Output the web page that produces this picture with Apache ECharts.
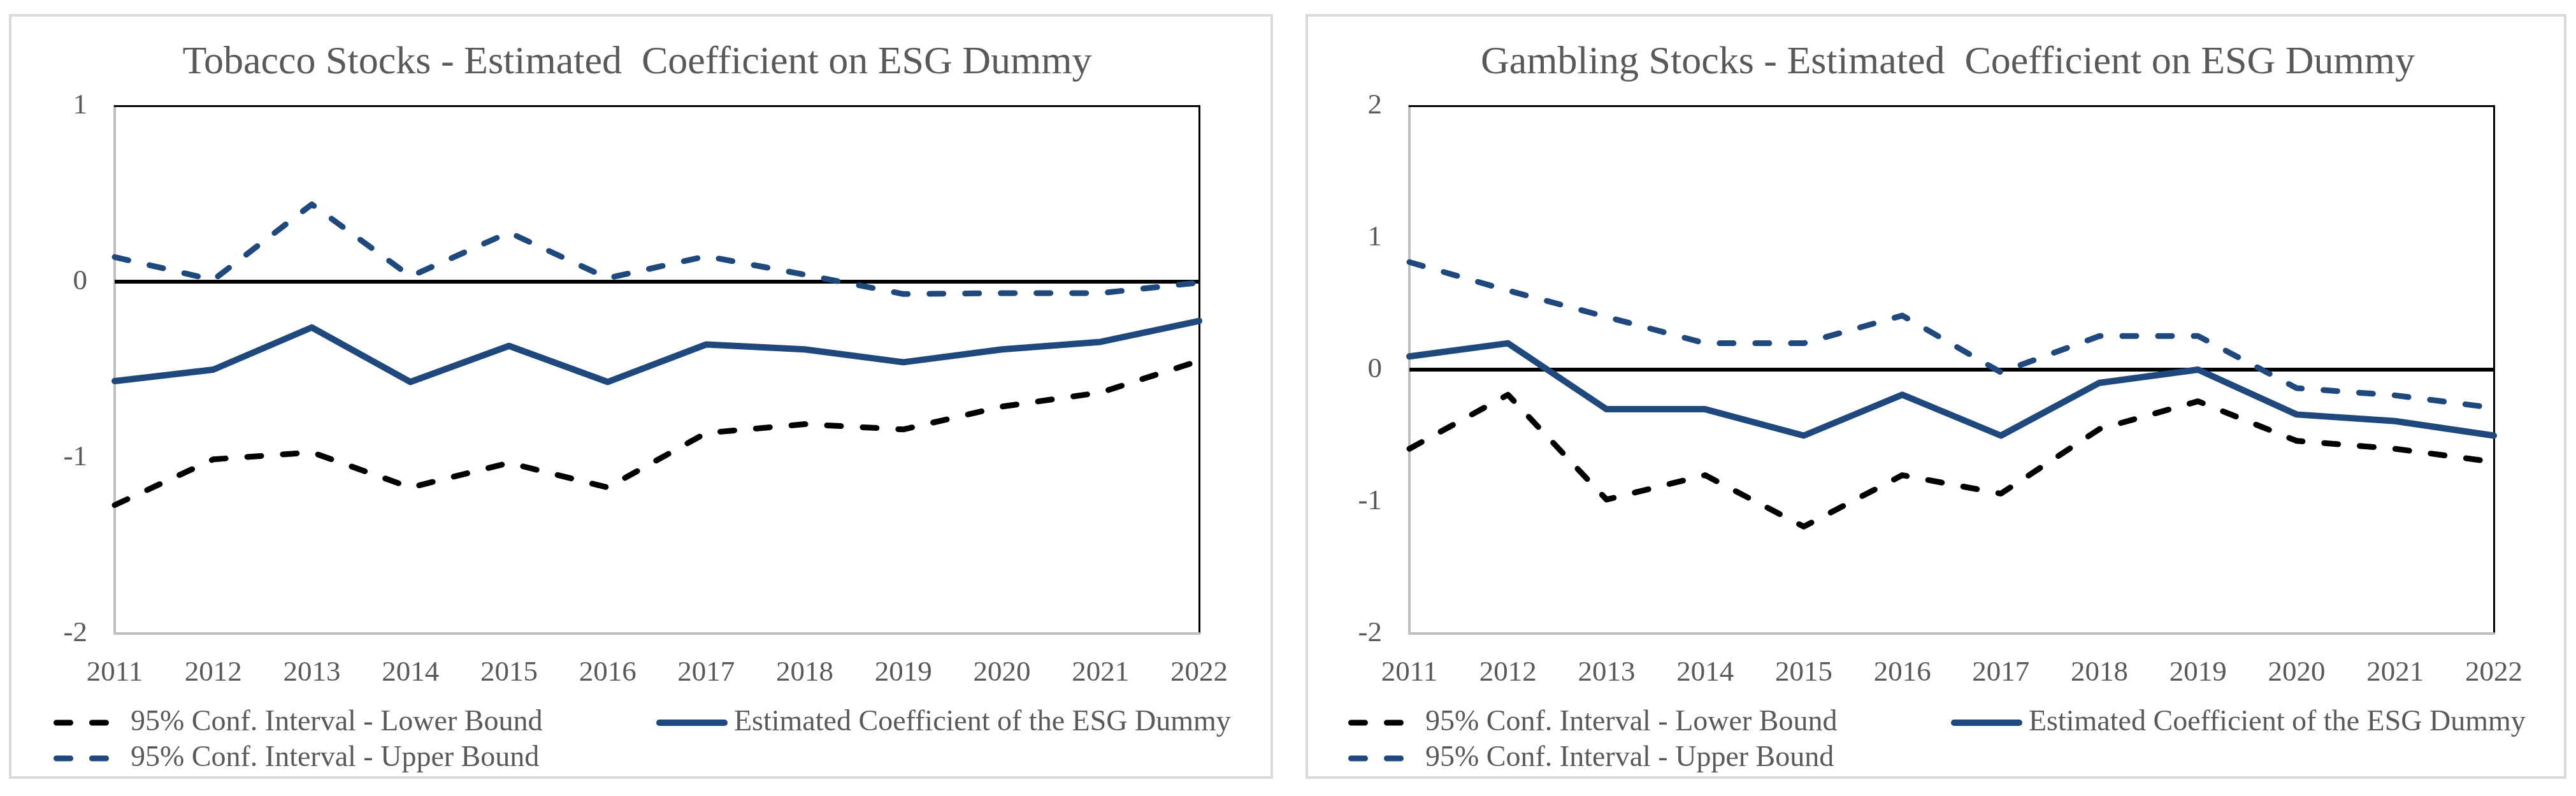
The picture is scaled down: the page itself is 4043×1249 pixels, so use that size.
<!DOCTYPE html>
<html>
<head>
<meta charset="utf-8">
<script src="https://cdn.jsdelivr.net/npm/echarts@6/dist/echarts.min.js"></script>
<style>
html,body{margin:0;padding:0;background:#fff;}
#chart{width:4043px;height:1249px;}
</style>
</head>
<body>
<div id="chart"></div>
<script>
const years = ['2011','2012','2013','2014','2015','2016','2017','2018','2019','2020','2021','2022'];

const tobaccoLower = [-1.27,-1.01,-0.97,-1.17,-1.03,-1.17,-0.86,-0.81,-0.84,-0.71,-0.63,-0.45];
const tobaccoEstimate = [-0.565,-0.50,-0.26,-0.57,-0.365,-0.57,-0.357,-0.385,-0.458,-0.385,-0.342,-0.223];
const tobaccoUpper = [0.14,0.01,0.44,0.03,0.28,0.02,0.145,0.04,-0.07,-0.065,-0.065,-0.005];

const gamblingLower = [-0.60,-0.19,-0.985,-0.80,-1.19,-0.80,-0.94,-0.45,-0.24,-0.54,-0.60,-0.70];
const gamblingEstimate = [0.10,0.20,-0.30,-0.30,-0.50,-0.19,-0.50,-0.10,0.00,-0.34,-0.39,-0.50];
const gamblingUpper = [0.815,0.60,0.40,0.20,0.20,0.41,-0.02,0.255,0.255,-0.14,-0.195,-0.29];

const titles = ['Tobacco Stocks - Estimated  Coefficient on ESG Dummy', 'Gambling Stocks - Estimated  Coefficient on ESG Dummy'];
const seriesNames = ['95% Conf. Interval - Lower Bound', 'Estimated Coefficient of the ESG Dummy', '95% Conf. Interval - Upper Bound'];
const yRanges = [[-2, 1], [-2, 2]];

const FONT = 'Liberation Serif';
const GRAY_TEXT = '#595959';
const BLUE = '#1f487c';
const DASH = [22, 34];

const DASH_ICON = 'path://M4.5,0 H26.5 A4.5,4.5 0 0 1 26.5,9 H4.5 A4.5,4.5 0 0 1 4.5,0 Z M60.5,0 H82.5 A4.5,4.5 0 0 1 82.5,9 H60.5 A4.5,4.5 0 0 1 60.5,0 Z';
const SOLID_ICON = 'path://M5,0 H107 A5,5 0 0 1 107,10 H5 A5,5 0 0 1 5,0 Z';

const chart = echarts.init(document.getElementById('chart'), null, {renderer: 'canvas'});

const gridLefts = [180, 2212];
const gridWidth = 1702;
const offsets = [0, 2032];

const grids = gridLefts.map(l => ({left: l, width: gridWidth, top: 166, height: 828, show: false}));

const xAxes = [];
const yAxes = [];
[0, 1].forEach(i => {
  xAxes.push({
    type: 'category', gridIndex: i, data: years, boundaryGap: false, position: 'bottom',
    axisLine: {show: true, onZero: false, lineStyle: {color: '#bfbfbf', width: 4}},
    axisTick: {show: false},
    axisLabel: {interval: 0, margin: 40, color: GRAY_TEXT, fontFamily: FONT, fontSize: 45},
    splitLine: {show: false}
  });
  xAxes.push({
    type: 'category', gridIndex: i, data: years, boundaryGap: false, position: 'top',
    axisLine: {show: true, onZero: false, lineStyle: {color: '#000', width: 3}},
    axisTick: {show: false}, axisLabel: {show: false}, splitLine: {show: false}
  });
  yAxes.push({
    type: 'value', gridIndex: i, min: yRanges[i][0], max: yRanges[i][1], interval: 1, position: 'left',
    axisLine: {show: true, lineStyle: {color: '#bfbfbf', width: 4}},
    axisTick: {show: false},
    axisLabel: {margin: 43, color: GRAY_TEXT, fontFamily: FONT, fontSize: 45},
    splitLine: {show: false}
  });
  yAxes.push({
    type: 'value', gridIndex: i, min: yRanges[i][0], max: yRanges[i][1], interval: 1, position: 'right',
    axisLine: {show: true, lineStyle: {color: '#000', width: 3}},
    axisTick: {show: false}, axisLabel: {show: false}, splitLine: {show: false}
  });
});

const panelData = [
  [tobaccoLower, tobaccoEstimate, tobaccoUpper],
  [gamblingLower, gamblingEstimate, gamblingUpper]
];

const series = [];
[0, 1].forEach(i => {
  const [lo, est, up] = panelData[i];
  series.push({
    name: seriesNames[1], type: 'line', xAxisIndex: i * 2, yAxisIndex: i * 2, data: est,
    symbol: 'none', z: 3,
    lineStyle: {color: BLUE, width: 10, cap: 'round', join: 'round'},
    itemStyle: {color: BLUE},
    markLine: {
      silent: true, symbol: 'none', label: {show: false},
      lineStyle: {color: '#000', width: 6, type: 'solid'},
      data: [{yAxis: 0}], z: 2
    }
  });
  series.push({
    name: seriesNames[0], type: 'line', xAxisIndex: i * 2, yAxisIndex: i * 2, data: lo,
    symbol: 'none', z: 4,
    lineStyle: {color: '#000', width: 9, type: DASH, cap: 'round', join: 'round'},
    itemStyle: {color: '#000'}
  });
  series.push({
    name: seriesNames[2], type: 'line', xAxisIndex: i * 2, yAxisIndex: i * 2, data: up,
    symbol: 'none', z: 4,
    lineStyle: {color: BLUE, width: 9, type: DASH, cap: 'round', join: 'round'},
    itemStyle: {color: BLUE}
  });
});

const legendText = {color: GRAY_TEXT, fontFamily: FONT, fontSize: 46, lineHeight: 50};
const legends = [];
[0, 1].forEach(i => {
  const off = offsets[i];
  legends.push({
    data: [{name: seriesNames[0], icon: DASH_ICON, itemStyle: {color: '#000', borderWidth: 0}}],
    left: 84 + off, top: 1109, itemWidth: 87, itemHeight: 9, padding: 0,
    selectedMode: false,
    textStyle: Object.assign({padding: [0, 0, 0, 29]}, legendText)
  });
  legends.push({
    data: [{name: seriesNames[1], icon: SOLID_ICON, itemStyle: {color: BLUE, borderWidth: 0}}],
    left: 1030 + off, top: 1109, itemWidth: 112, itemHeight: 10, padding: 0,
    selectedMode: false,
    textStyle: Object.assign({padding: [0, 0, 0, 5]}, legendText)
  });
  legends.push({
    data: [{name: seriesNames[2], icon: DASH_ICON, itemStyle: {color: BLUE, borderWidth: 0}}],
    left: 84 + off, top: 1165, itemWidth: 87, itemHeight: 9, padding: 0,
    selectedMode: false,
    textStyle: Object.assign({padding: [0, 0, 0, 29]}, legendText)
  });
});

const option = {
  backgroundColor: '#fff',
  animation: false,
  title: [
    {text: titles[0], left: 1000, top: 68, textAlign: 'center', padding: 0,
     textStyle: {color: GRAY_TEXT, fontFamily: FONT, fontSize: 62, fontWeight: 'normal'}},
    {text: titles[1], left: 3057, top: 68, textAlign: 'center', padding: 0,
     textStyle: {color: GRAY_TEXT, fontFamily: FONT, fontSize: 62, fontWeight: 'normal'}}
  ],
  graphic: [
    {type: 'rect', shape: {x: 16, y: 24, width: 1980, height: 1196}, style: {fill: 'none', stroke: '#d9d9d9', lineWidth: 4}, silent: true, z: -1},
    {type: 'rect', shape: {x: 2051, y: 24, width: 1975, height: 1196}, style: {fill: 'none', stroke: '#d9d9d9', lineWidth: 4}, silent: true, z: -1}
  ],
  legend: legends,
  grid: grids,
  xAxis: xAxes,
  yAxis: yAxes,
  series: series
};

chart.setOption(option);
</script>
</body>
</html>
